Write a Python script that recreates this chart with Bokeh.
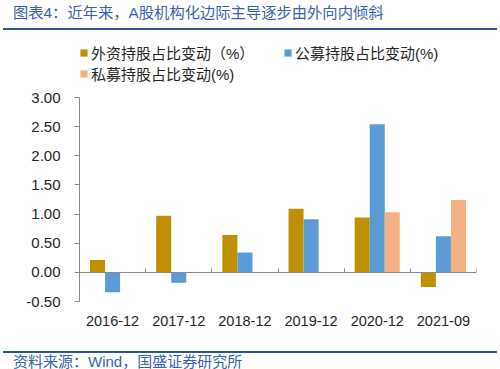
import numpy as np
from bokeh.plotting import figure
from bokeh.layouts import column
from bokeh.models import (Range1d, FixedTicker, Legend, LegendItem, LinearAxis,
                          NumeralTickFormatter, Div)
from bokeh.embed import file_html
from bokeh.resources import INLINE

# ---------------- data ----------------
categories = ["2016-12", "2017-12", "2018-12", "2019-12", "2020-12", "2021-09"]
foreign = [0.21, 0.97, 0.64, 1.09, 0.94, -0.25]
public = [-0.34, -0.18, 0.34, 0.91, 2.54, 0.62]
private = [None, None, None, None, 1.03, 1.24]
series_names = ["外资持股占比变动（%）", "公募持股占比变动(%)", "私募持股占比变动(%)"]
y_ticks = [-0.5, 0.0, 0.5, 1.0, 1.5, 2.0, 2.5, 3.0]
title_text = "图表4：近年来，A股机构化边际主导逐步由外向内倾斜"
source_text = "资料来源：Wind，国盛证券研究所"

colors = ["#BF9000", "#5B9BD5", "#F4B183"]
FONT = "'Liberation Sans', 'Noto Sans CJK SC'"
AXIS_GRAY = "#898989"
TEXT_BLUE = "#3A62AA"
LINE_BLUE = "#2E5597"
W = 500

# ---------------- header (title + rule) ----------------
header = Div(width=W, height=35, margin=0, text=(
    f'<div style="position:relative;width:{W}px;height:35px;">'
    f'<span style="position:absolute;left:13px;top:3px;font-family:{FONT};font-size:15.3px;'
    f'line-height:19px;color:{TEXT_BLUE};white-space:nowrap;">{title_text}</span>'
    f'<div style="position:absolute;left:3px;top:28px;width:494px;height:2px;'
    f'background:{LINE_BLUE};"></div></div>'))

# ---------------- main chart ----------------
n = len(categories)
idx = np.arange(n) + 0.5
bar_w = 1 / 4.4

MAIN_H = 305
ML, MR, MT, MB = 79, 24, 3, 39      # frame: page x 79..476, page y 38..301
px_per_y = 204 / 3.5                 # pixels per value unit
frame_h = MAIN_H - MT - MB
y_end = y_ticks[0] + frame_h / px_per_y   # room above 3.00 for the legend
frame_bottom_page = 35 + MAIN_H - MB

p = figure(width=W, height=MAIN_H, x_range=Range1d(0, n),
           y_range=Range1d(y_ticks[0], y_end),
           output_backend="svg", toolbar_location=None,
           min_border_left=ML, min_border_right=MR, min_border_top=MT, min_border_bottom=MB,
           outline_line_color=None)
p.grid.visible = False

r_foreign = p.vbar(x=idx - bar_w, top=foreign, width=bar_w, bottom=0,
                   fill_color=colors[0], line_color=None)
r_public = p.vbar(x=idx, top=public, width=bar_w, bottom=0,
                  fill_color=colors[1], line_color=None)
pv_x = [x + bar_w for x, v in zip(idx, private) if v is not None]
pv_top = [v for v in private if v is not None]
r_private = p.vbar(x=pv_x, top=pv_top, width=bar_w, bottom=0,
                   fill_color=colors[2], line_color=None)

# y axis
yax = p.yaxis[0]
yax.bounds = (y_ticks[0], y_ticks[-1])
yax.ticker = FixedTicker(ticks=y_ticks)
yax.formatter = NumeralTickFormatter(format="0.00")
yax.major_tick_out = 5
yax.major_tick_in = 0
yax.minor_tick_line_color = None
yax.axis_line_color = AXIS_GRAY
yax.major_tick_line_color = AXIS_GRAY
yax.major_label_standoff = 14
yax.major_label_text_font = "Liberation Sans"
yax.major_label_text_font_size = "15px"
yax.major_label_text_color = "#262626"

# x axis with the category labels (below the plot)
xax = p.xaxis[0]
xax.ticker = FixedTicker(ticks=list(idx))
xax.major_label_overrides = {float(x): c for x, c in zip(idx, categories)}
xax.axis_line_color = None
xax.major_tick_line_color = None
xax.minor_tick_line_color = None
xax.major_label_standoff = 8
xax.major_label_text_font = "Liberation Sans"
xax.major_label_text_font_size = "14.5px"
xax.major_label_text_color = "#262626"

# category axis line crossing at 0, with boundary ticks pointing up
bounds = list(range(0, n + 1))
zax = LinearAxis(fixed_location=0, bounds=(0, n), ticker=FixedTicker(ticks=bounds[1:]),
                 major_label_overrides={b: "" for b in bounds},
                 axis_line_color=AXIS_GRAY, major_tick_line_color=AXIS_GRAY,
                 major_tick_in=4, major_tick_out=0, minor_tick_line_color=None,
                 major_label_text_font_size="1px")
p.add_layout(zax, "below")

# legends inside the frame (screen px from frame bottom-left)
legend_style = dict(border_line_color=None, background_fill_alpha=0, padding=0, margin=0,
                    glyph_width=9, glyph_height=9, label_standoff=3, spacing=0,
                    label_height=21, label_text_font=FONT, label_text_font_size="15px",
                    label_text_color="#262626")
leg1 = Legend(items=[LegendItem(label=series_names[0], renderers=[r_foreign]),
                     LegendItem(label=series_names[2], renderers=[r_private])],
              location=(0, frame_bottom_page - 84), **legend_style)
leg2 = Legend(items=[LegendItem(label=series_names[1], renderers=[r_public])],
              location=(283 - ML, frame_bottom_page - 63), **legend_style)
p.add_layout(leg1)
p.add_layout(leg2)

# ---------------- footer (rule + source) ----------------
footer = Div(width=W, height=29, margin=0, text=(
    f'<div style="position:relative;width:{W}px;height:29px;">'
    f'<div style="position:absolute;left:3px;top:10.5px;width:494px;height:2px;'
    f'background:{LINE_BLUE};"></div>'
    f'<span style="position:absolute;left:13px;top:13px;font-family:{FONT};font-size:15px;'
    f'line-height:17px;color:{TEXT_BLUE};white-space:nowrap;">{source_text}</span></div>'))

layout = column(header, p, footer, spacing=0)
open("out.html", "w").write(file_html(layout, INLINE))
